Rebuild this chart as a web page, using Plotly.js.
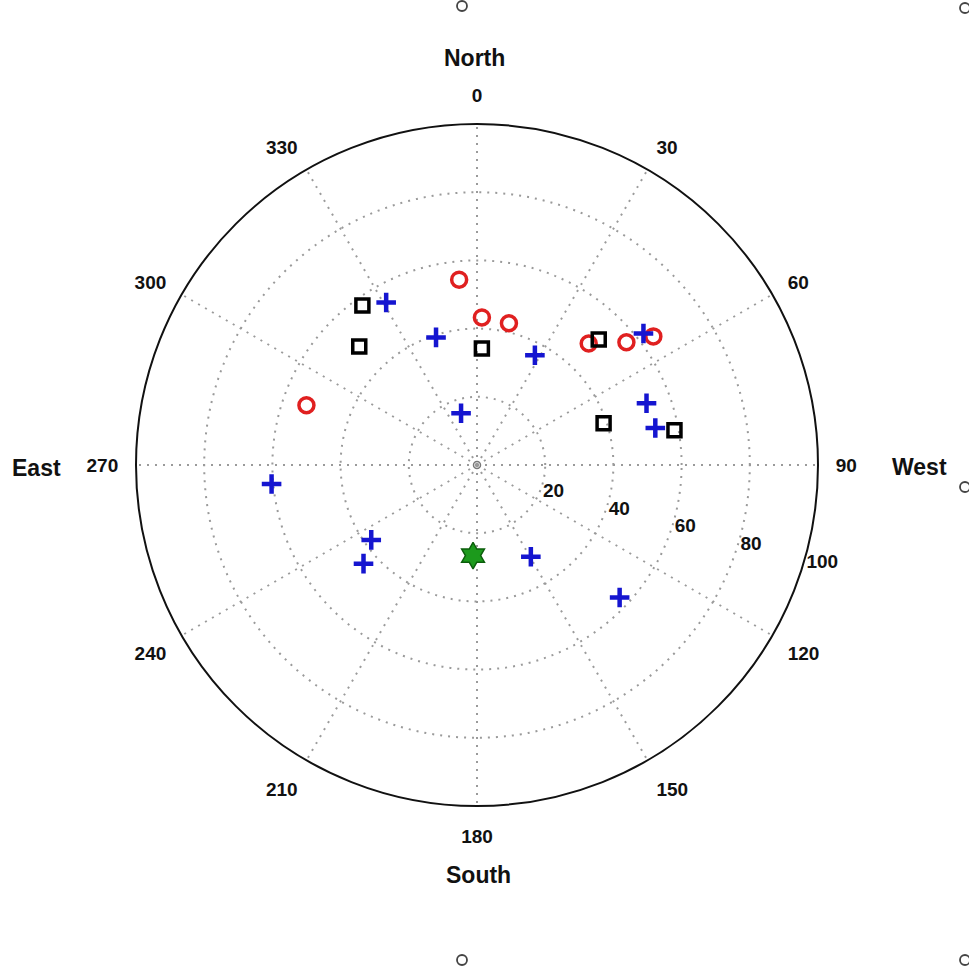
<!DOCTYPE html>
<html>
<head>
<meta charset="utf-8">
<script src="https://cdn.plot.ly/plotly-3.0.1.min.js"></script>
<style>html,body{margin:0;padding:0;background:#fff;}#chart{width:969px;height:979px;}</style>
</head>
<body>
<div id="chart"></div>
<script>
// Red open circles
var redR = [54.6, 43.3, 42.6, 48.4, 56.7, 64.0, 53.0];
var redTheta = [354.5, 1.9, 12.7, 42.6, 50.6, 53.9, 289.3];
// Black open squares
var blackR = [57.6, 49.0, 34.2, 51.3, 39.1, 58.8];
var blackTheta = [324.3, 315.2, 2.4, 44.1, 71.7, 80.0];
// Blue crosses
var blueR = [54.6, 39.3, 36.4, 15.9, 52.9, 53.4, 62.2, 60.5, 38.0, 44.1, 31.2, 57.1];
var blueTheta = [330.8, 342.2, 27.8, 342.9, 70.0, 78.3, 51.7, 264.7, 234.7, 229.0, 149.6, 132.9];
// Green star
var greenR = [26.6];
var greenTheta = [182.5];
// Centre marker
var centreR = [0];
var centreTheta = [0];

var angleTicks = [0, 30, 60, 90, 120, 150, 180, 210, 240, 270, 300, 330];
var angleTickText = ['0', '30', '60', '90', '120', '150', '180', '210', '240', '270', '300', '330'];
var radialTicks = [20, 40, 60, 80, 100];
var radialTickText = ['20', '40', '60', '80', '100'];
var radialLabelAngle = 105;
var cardinals = ['North', 'West', 'South', 'East'];

var FONT = 'Liberation Sans, Arial, Helvetica, sans-serif';

var traces = [
  {type: 'scatterpolar', mode: 'markers', r: centreR, theta: centreTheta,
   marker: {symbol: 'circle-open', size: 7, color: '#777', line: {width: 1.5}}},
  {type: 'scatterpolar', mode: 'markers', r: redR, theta: redTheta,
   marker: {symbol: 'circle-open', size: 15, color: '#e02020', line: {width: 3.5}}},
  {type: 'scatterpolar', mode: 'markers', r: blackR, theta: blackTheta,
   marker: {symbol: 'square-open', size: 13, color: '#000', line: {width: 3.5}}},
  {type: 'scatterpolar', mode: 'markers', r: blueR, theta: blueTheta,
   marker: {symbol: 'cross-thin-open', size: 14, color: '#1515d0', line: {width: 4.5}}},
  {type: 'scatterpolar', mode: 'markers', r: greenR, theta: greenTheta,
   marker: {symbol: 'hexagram', size: 20, color: '#1c9a1c', line: {width: 1.5, color: '#0b5e0b'}}},
  // radial tick labels, placed through the polar scales
  {type: 'scatterpolar', mode: 'text', cliponaxis: false,
   r: radialTicks, theta: radialTicks.map(function(){ return radialLabelAngle; }),
   text: radialTickText, textposition: 'bottom right',
   marker: {size: 4},
   textfont: {family: FONT, size: 19, color: '#111', weight: 'bold'}}
];

function ppx(x){ return x/969; }
function ppy(y){ return 1 - y/979; }

var annPos = [[474, 58], [919, 467], [478, 875], [36, 468]];
var annotations = cardinals.map(function(t, i){
  return {text: t, xref: 'paper', yref: 'paper', x: ppx(annPos[i][0]), y: ppy(annPos[i][1]),
    showarrow: false, xanchor: 'center', yanchor: 'middle',
    font: {family: FONT, size: 23, color: '#111', weight: 'bold'}};
});

var dots = [[462, 6], [965, 8], [965, 487], [462, 960], [965, 960]];
var shapes = dots.map(function(d){
  return {type: 'circle', xref: 'paper', yref: 'paper', xsizemode: 'pixel', ysizemode: 'pixel',
    xanchor: ppx(d[0]), yanchor: ppy(d[1]), x0: -5, x1: 5, y0: -5, y1: 5,
    line: {color: '#444', width: 1.8}};
});

var layout = {
  width: 969, height: 979,
  margin: {l: 0, r: 0, t: 0, b: 0},
  paper_bgcolor: '#fff',
  showlegend: false,
  polar: {
    domain: {x: [136/969, 818/969], y: [172/979, 856/979]},
    bgcolor: '#fff',
    angularaxis: {
      rotation: 90, direction: 'clockwise',
      tickmode: 'array', tickvals: angleTicks, ticktext: angleTickText,
      showline: true, linecolor: '#111', linewidth: 2,
      showgrid: true, gridcolor: '#9a9a9a', gridwidth: 2, griddash: '2px,6px',
      ticks: 'outside', ticklen: 13, tickcolor: 'rgba(0,0,0,0)',
      tickfont: {family: FONT, size: 19, color: '#111', weight: 'bold'}
    },
    radialaxis: {
      range: [0, 100], angle: -13,
      tickmode: 'array', tickvals: radialTicks, ticktext: radialTickText,
      showline: false, ticks: '', showticklabels: false,
      showgrid: true, gridcolor: '#9a9a9a', gridwidth: 2, griddash: '2px,6px'
    }
  },
  annotations: annotations,
  shapes: shapes
};

Plotly.newPlot('chart', traces, layout, {displayModeBar: false, staticPlot: true});
</script>
</body>
</html>
